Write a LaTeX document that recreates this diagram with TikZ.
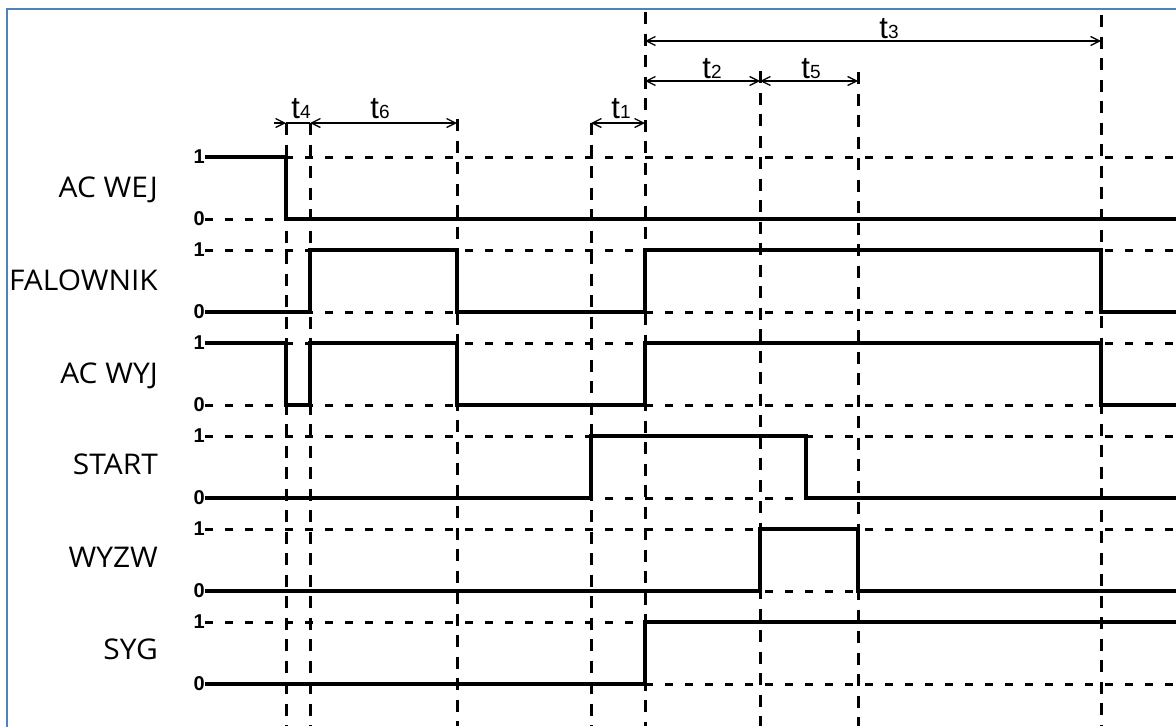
\documentclass[tikz,border=0pt]{standalone}
\usepackage{fontspec}
\setmainfont{Liberation Sans}
\newfontfamily\rowfont[FakeStretch=1.05]{Open Sans}
\usetikzlibrary{arrows.meta}

\definecolor{frameblue}{RGB}{79,129,189}
\newcommand\tsub[1]{t{\fontsize{19}{19}\selectfont #1}}

\begin{document}
\begin{tikzpicture}[
        x=1pt, y=-1pt,
        signal/.style={line width=3.4pt, line join=miter},
        levelline/.style={line width=3pt, dash pattern=on 8pt off 12pt},
        marker/.style={line width=3pt, dash pattern=on 12pt off 9.5pt},
        dim/.style={line width=1.3pt, {Straight Barb[length=9pt,width=9pt]}-{Straight Barb[length=9pt,width=9pt]}},
        dimend/.style={line width=1.3pt, -{Straight Barb[length=9pt,width=9pt]}},
        rowlabel/.style={anchor=base east, inner sep=0pt, font=\rowfont\fontsize{28.5}{28.5}\selectfont},
        level/.style={anchor=east, inner sep=0pt, font=\bfseries\fontsize{20}{20}\selectfont},
        tlabel/.style={anchor=base, inner sep=0pt, font=\fontsize{31}{31}\selectfont}
    ]
    \useasboundingbox (0,0) rectangle (1176,726);
    \draw[frameblue, line width=2pt] (6.5,740) -- (6.5,8.5) -- (1190,8.5);

    % time markers
    \coordinate (right) at (1176,0);
    \coordinate (stop) at (806,0);
    \foreach \n/\x/\top in {v1/286/123, v2/310/123, v3/457/119, v4/591/123,
                            v5/645/12, v6/760/71, v7/858/72, v8/1101/15} {
        \coordinate (\n) at (\x,\top);
        \draw[marker] (\n) -- (\x,726);
    }

    % rows with 1/0 levels
    \foreach \i/\name/\base in {0/AC WEJ/197, 1/FALOWNIK/290, 2/AC WYJ/383,
                                3/START/474, 4/WYZW/567, 5/SYG/659} {
        \pgfmathsetmacro\hi{157+93*\i}
        \pgfmathsetmacro\lo{219+93*\i}
        \node[rowlabel] (lab\i) at (158,\base) {\name};
        \node[level] (one\i) at (205,\hi) {1};
        \node[level] (zero\i) at (205,\lo) {0};
        \draw[levelline] (one\i.east) -- (right |- one\i);
        \draw[levelline] (zero\i.east) -- (right |- zero\i);
    }

    % waveforms
    \draw[signal] (one0.east) -- (v1 |- one0) -- (v1 |- zero0) -- (right |- zero0);
    \draw[signal] (zero1.east) -- (v2 |- zero1) -- (v2 |- one1) -- (v3 |- one1)
        -- (v3 |- zero1) -- (v5 |- zero1) -- (v5 |- one1) -- (v8 |- one1)
        -- (v8 |- zero1) -- (right |- zero1);
    \draw[signal] (one2.east) -- (v1 |- one2) -- (v1 |- zero2) -- (v2 |- zero2)
        -- (v2 |- one2) -- (v3 |- one2) -- (v3 |- zero2) -- (v5 |- zero2)
        -- (v5 |- one2) -- (v8 |- one2) -- (v8 |- zero2) -- (right |- zero2);
    \draw[signal] (zero3.east) -- (v4 |- zero3) -- (v4 |- one3) -- (stop |- one3)
        -- (stop |- zero3) -- (right |- zero3);
    \draw[signal] (zero4.east) -- (v6 |- zero4) -- (v6 |- one4) -- (v7 |- one4)
        -- (v7 |- zero4) -- (right |- zero4);
    \draw[signal] (zero5.east) -- (v5 |- zero5) -- (v5 |- one5) -- (right |- one5);

    % intervals
    \coordinate (row1) at (0,123);
    \coordinate (row2) at (0,81);
    \coordinate (row3) at (0,41);
    \coordinate (t4in) at (274,123);
    \draw[dimend] (t4in) -- (v1 |- row1);
    \draw[line width=1.3pt] (v1 |- row1) -- (v2 |- row1);
    \draw[dim] (v2 |- row1) -- (v3 |- row1);
    \draw[dim] (v4 |- row1) -- (v5 |- row1);
    \draw[dim] (v5 |- row2) -- (v6 |- row2);
    \draw[dim] (v6 |- row2) -- (v7 |- row2);
    \draw[dim] (v5 |- row3) -- (v8 |- row3);

    \node[tlabel] (lt4) at (301,118) {\tsub{4}};
    \node[tlabel] (lt6) at (380,118) {\tsub{6}};
    \node[tlabel] (lt1) at (621,118) {\tsub{1}};
    \node[tlabel] (lt2) at (712,78) {\tsub{2}};
    \node[tlabel] (lt5) at (811,78) {\tsub{5}};
    \node[tlabel] (lt3) at (889,38) {\tsub{3}};
\end{tikzpicture}
\end{document}
